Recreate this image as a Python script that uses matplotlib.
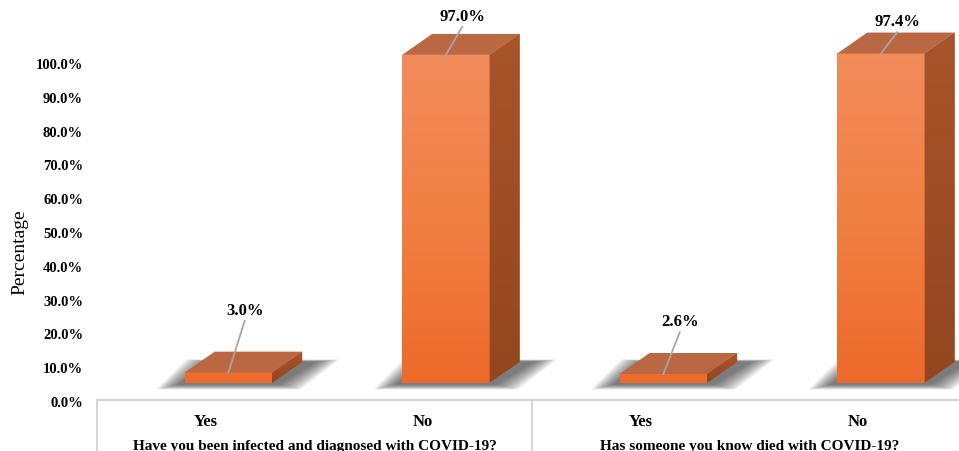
import numpy as np
import matplotlib.pyplot as plt
from matplotlib.patches import Polygon
from matplotlib.colors import LinearSegmentedColormap

# data
categories = ['Yes', 'No', 'Yes', 'No']
groups = ['Have you been infected and diagnosed with COVID-19?',
          'Has someone you know died with COVID-19?']
values = [3.0, 97.0, 2.6, 97.4]
value_labels = ['3.0%', '97.0%', '2.6%', '97.4%']
yticks = [0, 10, 20, 30, 40, 50, 60, 70, 80, 90, 100]

# layout / style
label_lift = [24.0, 17.0, 21.0, 15.0]
px_per_pct = 3.38
base = 5.4          # floor lift of the 3d bars
bw = 0.402          # front width
shift = 0.104       # perspective shift of bar front
ddx, ddy = 0.138, 6.2   # depth offset
serif = 'Liberation Serif'

fig = plt.figure(figsize=(9.59, 4.52), dpi=100)
ax = fig.add_axes([97 / 959, 50 / 452, 870 / 959, 402 / 452])
ax.set_xlim(0, 4)
ax.set_ylim(0, 402 / px_per_pct)
for s in ax.spines.values():
    s.set_visible(False)

front_cmap = LinearSegmentedColormap.from_list('front', ['#ED6A2B', '#F08043', '#F28C5C'])
side_cmap = LinearSegmentedColormap.from_list('side', ['#93461F', '#A9542A'])

for i, v in enumerate(values):
    cx = i + 0.5 + shift
    x0, x1 = cx - bw / 2, cx + bw / 2
    b, t = base, base + v

    # soft floor shadow
    n = 10
    for k in range(n):
        g = 0.011 * (n - k)
        gy = 0.45 * (n - k)
        sh = Polygon([(x0 - 0.02 - g, b - 0.4 - gy * 0.35), (x1 + 0.02 + g, b - 0.4 - gy * 0.35),
                      (x1 + ddx + 0.06 + g, b + ddy + gy * 0.15),
                      (x0 + ddx - 0.02 - g, b + ddy + gy * 0.15)],
                     closed=True, facecolor='#2e2e2e', edgecolor='none', alpha=0.09, zorder=1)
        ax.add_patch(sh)

    # front face with vertical gradient
    grad = np.linspace(0, 1, 200).reshape(-1, 1) * (t / 105.0)
    ax.imshow(grad, extent=[x0, x1, b, t], origin='lower', cmap=front_cmap,
              vmin=0, vmax=1, aspect='auto', zorder=3)

    # side face
    side = Polygon([(x1, b), (x1 + ddx, b + ddy), (x1 + ddx, t + ddy), (x1, t)],
                   closed=True, facecolor='#A0502A', edgecolor='none', zorder=3)
    ax.add_patch(side)
    sgrad = np.linspace(0, 1, 200).reshape(-1, 1)
    im = ax.imshow(sgrad, extent=[x1, x1 + ddx, b, t + ddy], origin='lower', cmap=side_cmap,
                   vmin=0, vmax=1, aspect='auto', zorder=3)
    im.set_clip_path(side)

    # top face
    top = Polygon([(x0, t), (x1, t), (x1 + ddx, t + ddy), (x0 + ddx, t + ddy)],
                  closed=True, facecolor='#B96843', edgecolor='none', zorder=4)
    ax.add_patch(top)

    # value label with leader line
    lx = cx + 0.075
    ly = v + label_lift[i]
    ax.plot([cx, lx], [t, ly - 3.3], color='#A6A6A6', lw=1.3, zorder=5)
    ax.text(lx, ly, value_labels[i], ha='center', va='center', fontsize=12,
            fontweight='bold', family=serif, zorder=6)

# axis floor line and group dividers
ax.plot([0, 4], [0.3, 0.3], color='#D5D5D5', lw=1.6, clip_on=False, zorder=2)
for gx in [0, 2, 4]:
    ax.plot([gx, gx], [0.3, -16], color='#D5D5D5', lw=1.4, clip_on=False, zorder=2)

ax.set_yticks(yticks)
ax.set_yticklabels([f'{t:.1f}%' for t in yticks], fontsize=10.5, fontweight='bold', family=serif)
ax.set_xticks([0.5, 1.5, 2.5, 3.5])
ax.set_xticklabels(categories, fontsize=12, fontweight='bold', family=serif)
ax.tick_params(axis='y', length=0, pad=10)
ax.tick_params(axis='x', length=0, pad=9)

for gi, g in enumerate(groups):
    ax.text(2 * gi + 1, -0.11, g, transform=ax.get_xaxis_transform(),
            ha='center', va='center', fontsize=11, fontweight='bold', family=serif)

ax.set_ylabel('Percentage', fontsize=14, family=serif)
ax.yaxis.set_label_coords(-0.079, 0.373)

fig.savefig('out.png', dpi=100)
